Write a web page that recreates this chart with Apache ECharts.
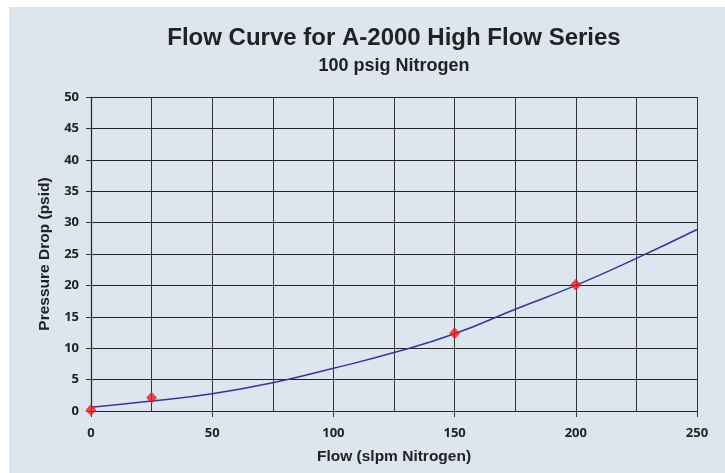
<!DOCTYPE html>
<html>
<head>
<meta charset="utf-8">
<script src="https://cdn.jsdelivr.net/npm/echarts@6/dist/echarts.min.js"></script>
<style>
html,body{margin:0;padding:0;background:#fff;}
#c{width:725px;height:473px;}
</style>
</head>
<body>
<div id="c"></div>
<script>
const titleText = 'Flow Curve for A-2000 High Flow Series';
const subtitleText = '100 psig Nitrogen';
const xAxisName = 'Flow (slpm Nitrogen)';
const yAxisName = 'Pressure Drop (psid)';

const curveFlow = [0, 25, 50, 75, 100, 125, 150, 175, 200, 225, 250];
const curvePressure = [0.6, 1.6, 2.75, 4.5, 6.8, 9.3, 12.3, 16.2, 20.0, 24.3, 28.9];

const pointFlow = [0, 25, 150, 200];
const pointPressure = [0.15, 2.1, 12.4, 20.1];

const chart = echarts.init(document.getElementById('c'));
const textColor = '#222';
chart.setOption({
  animation: false,
  backgroundColor: 'transparent',
  graphic: [{
    type: 'rect', z: -10, silent: true,
    shape: {x: 9, y: 7, width: 716, height: 466},
    style: {fill: '#dde5ee'}
  }],
  title: [{
    text: titleText, left: 389, top: 21, textAlign: 'center',
    textStyle: {fontFamily: 'Liberation Sans', fontWeight: 'bold', fontSize: 24, color: textColor}
  }, {
    text: subtitleText, left: 389, top: 52, textAlign: 'center',
    textStyle: {fontFamily: 'Liberation Sans', fontWeight: 'bold', fontSize: 18, color: textColor}
  }],
  grid: {left: 91, right: 28, top: 97, bottom: 62, containLabel: false},
  xAxis: {
    type: 'value', min: 0, max: 250, interval: 50,
    name: xAxisName, nameLocation: 'middle', nameGap: 38,
    nameTextStyle: {fontFamily: 'Liberation Sans', fontWeight: 'bold', fontSize: 15.5, color: textColor},
    axisLine: {show: true, lineStyle: {color: '#222', width: 1.2}},
    axisTick: {show: true, length: 6, lineStyle: {color: '#333', width: 1}},
    axisLabel: {margin: 16, fontFamily: 'Open Sans', fontWeight: 'bold', fontSize: 13, color: textColor},
    splitLine: {show: true, lineStyle: {color: '#333', width: 1}},
    minorTick: {show: false, splitNumber: 2},
    minorSplitLine: {show: true, lineStyle: {color: '#333', width: 1}}
  },
  yAxis: {
    type: 'value', min: 0, max: 50, interval: 5,
    name: yAxisName, nameLocation: 'middle', nameGap: 38, nameRotate: 90,
    nameTextStyle: {fontFamily: 'Liberation Sans', fontWeight: 'bold', fontSize: 15.5, color: textColor},
    axisLine: {show: true, lineStyle: {color: '#222', width: 1.2}},
    axisTick: {show: true, length: 5, lineStyle: {color: '#333', width: 1}},
    axisLabel: {margin: 12, fontFamily: 'Open Sans', fontWeight: 'bold', fontSize: 13, color: textColor},
    splitLine: {show: true, lineStyle: {color: '#222', width: 1}}
  },
  series: [{
    type: 'line', smooth: true, showSymbol: false,
    data: curveFlow.map((x, i) => [x, curvePressure[i]]),
    lineStyle: {color: '#2e3a9a', width: 1.5},
    z: 3
  }, {
    type: 'scatter', symbol: 'diamond', symbolSize: [11, 12],
    data: pointFlow.map((x, i) => [x, pointPressure[i]]),
    itemStyle: {color: '#ee1c25'},
    z: 4
  }]
});
</script>
</body>
</html>
